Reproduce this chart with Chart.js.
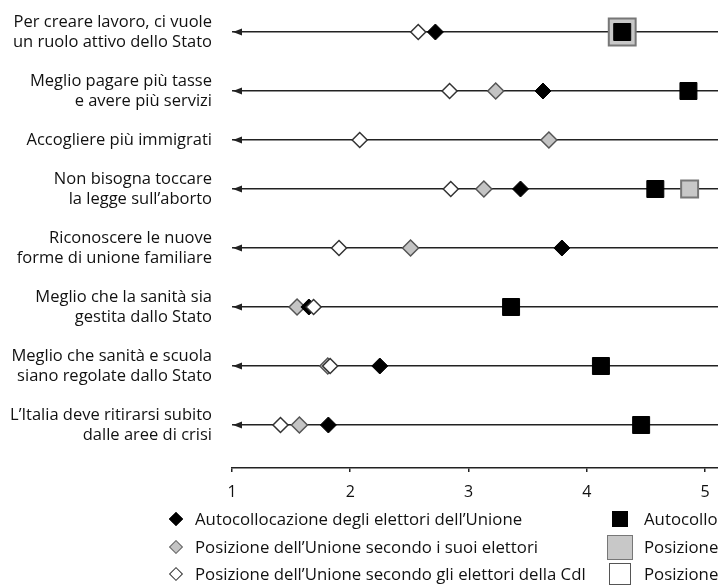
<!DOCTYPE html>
<html><head><meta charset="utf-8">
<script src="https://cdn.jsdelivr.net/npm/chart.js@4"></script>
<style>
html,body{margin:0;padding:0;background:#fff;}
#wrap{position:relative;width:718px;height:585px;overflow:hidden;font-family:'Open Sans',sans-serif;color:#111;}
#c{position:absolute;left:0;top:0;}
.legtxt{position:absolute;font-size:16.8px;white-space:nowrap;line-height:20px;}
.mk{position:absolute;box-sizing:border-box;}
</style></head><body>
<div id="wrap"><canvas id="c" width="718" height="585"></canvas><div id="legend"></div></div>
<script>
// ---- data ----
const categories = [
  ["Per creare lavoro, ci vuole", "un ruolo attivo dello Stato"],
  ["Meglio pagare più tasse", "e avere più servizi"],
  ["Accogliere più immigrati"],
  ["Non bisogna toccare", "la legge sull’aborto"],
  ["Riconoscere le nuove", "forme di unione familiare"],
  ["Meglio che la sanità sia", "gestita dallo Stato"],
  ["Meglio che sanità e scuola", "siano regolate dallo Stato"],
  ["L’Italia deve ritirarsi subito", "dalle aree di crisi"]
];
const unioneSelf   = [2.72, 3.63, null, 3.44, 3.79, 1.65, 2.25, 1.815];
const unioneByOwn  = [null, 3.23, 3.68, 3.13, 2.51, 1.55, 1.81, 1.57];
const unioneByCdl  = [2.575, 2.84, 2.08, 2.85, 1.905, 1.69, 1.83, 1.41];
const cdlSelf      = [4.30, 4.86, null, 4.58, null, 3.36, 4.12, 4.46];
const cdlByOwn     = [4.30, null, null, 4.87, null, null, null, null];
const cdlByUnione  = [null, null, null, null, null, null, null, null];
const xTicks = [1, 2, 3, 4, 5];
const seriesNames = [
  "Autocollocazione degli elettori dell’Unione",
  "Posizione dell’Unione secondo i suoi elettori",
  "Posizione dell’Unione secondo gli elettori della Cdl",
  "Autocollocazione degli elettori della Cdl",
  "Posizione della Cdl secondo i suoi elettori",
  "Posizione della Cdl secondo gli elettori dell’Unione"
];

// ---- layout: row centres derived from label line counts ----
const lineCounts = categories.map(c => c.length);
const rowPos = [];
lineCounts.forEach((n, i) => rowPos.push(i === 0 ? 0 : rowPos[i - 1] + 10 * (lineCounts[i - 1] + n) + 19));

const INK = '#222';
Chart.defaults.font.family = "'Open Sans', sans-serif";
Chart.defaults.color = '#111';

const pts = arr => arr.map((v, i) => ({x: v, y: rowPos[i]}));

const datasets = [
  {label: seriesNames[0], data: pts(unioneSelf), pointStyle: 'rectRot', pointRadius: 8,
   backgroundColor: '#000', borderColor: '#000', borderWidth: 1, order: 1},
  {label: seriesNames[1], data: pts(unioneByOwn), pointStyle: 'rectRot', pointRadius: 8,
   backgroundColor: '#c4c4c4', borderColor: '#555', borderWidth: 1.5, order: 2},
  {label: seriesNames[2], data: pts(unioneByCdl), pointStyle: 'rectRot', pointRadius: 7.5,
   backgroundColor: '#fff', borderColor: '#333', borderWidth: 1.5, order: 0},
  {label: seriesNames[3], data: pts(cdlSelf), pointStyle: 'rect', pointRadius: 12,
   backgroundColor: '#000', borderColor: '#000', borderWidth: 1, order: 3},
  {label: seriesNames[4], data: pts(cdlByOwn), pointStyle: 'rect',
   pointRadius: ctx => (cdlSelf[ctx.dataIndex] !== null && cdlSelf[ctx.dataIndex] === cdlByOwn[ctx.dataIndex]) ? 19 : 12,
   backgroundColor: '#c8c8c8', borderColor: '#777', borderWidth: 2, order: 5},
  {label: seriesNames[5], data: pts(cdlByUnione), pointStyle: 'rect', pointRadius: 11,
   backgroundColor: '#fff', borderColor: '#555', borderWidth: 1, order: 4}
];

const arrowPlugin = {
  id: 'arrows',
  beforeDatasetsDraw(chart) {
    const {ctx, chartArea, scales: {y}} = chart;
    ctx.save();
    ctx.fillStyle = INK;
    rowPos.forEach(v => {
      const py = y.getPixelForValue(v);
      ctx.beginPath();
      ctx.moveTo(chartArea.left + 1, py);
      ctx.lineTo(chartArea.left + 10, py - 3.5);
      ctx.lineTo(chartArea.left + 10, py + 3.5);
      ctx.closePath();
      ctx.fill();
    });
    ctx.restore();
  }
};

new Chart(document.getElementById('c'), {
  type: 'scatter',
  data: {datasets},
  plugins: [arrowPlugin],
  options: {
    responsive: false,
    animation: false,
    showLine: false,
    layout: {padding: 0, autoPadding: false},
    plugins: {legend: {display: false}, tooltip: {enabled: false}},
    scales: {
      x: {
        type: 'linear', position: 'bottom', min: 1, max: 5.11,
        afterBuildTicks: s => { s.ticks = xTicks.map(v => ({value: v})); },
        afterFit: s => { s.height = 117; s.paddingLeft = 0; s.paddingRight = 0; },
        grid: {drawOnChartArea: false, drawTicks: true, tickLength: 4, color: INK, lineWidth: 1.5},
        border: {display: true, color: INK, width: 1.5},
        ticks: {padding: 11, font: {size: 16}, color: '#111'}
      },
      y: {
        type: 'linear', position: 'left', reverse: true,
        min: -32, max: rowPos[rowPos.length - 1] + 43,
        afterBuildTicks: s => { s.ticks = rowPos.map(v => ({value: v})); },
        afterFit: s => { s.width = 232; s.paddingTop = 0; s.paddingBottom = 0; },
        grid: {drawOnChartArea: true, drawTicks: false, color: INK, lineWidth: 1.5},
        border: {display: false},
        ticks: {
          padding: 20, color: '#111',
          font: {size: 16.5, lineHeight: '20px'},
          callback: v => categories[rowPos.indexOf(v)]
        }
      }
    }
  }
});

// ---- legend (HTML) ----
const leg = document.getElementById('legend');
const legendRows = [519, 547, 574];
const markerStyles = [
  {w: 10, h: 10, rot: true, bg: '#000', bd: '1px solid #000'},
  {w: 10, h: 10, rot: true, bg: '#c4c4c4', bd: '1.5px solid #666'},
  {w: 10, h: 10, rot: true, bg: '#fff', bd: '1.5px solid #333'},
  {w: 16, h: 16, rot: false, bg: '#000', bd: '1px solid #000'},
  {w: 26, h: 25, rot: false, bg: '#c8c8c8', bd: '1.5px solid #777'},
  {w: 22, h: 22, rot: false, bg: '#fff', bd: '1px solid #555'}
];
seriesNames.forEach((name, i) => {
  const col = i < 3 ? 0 : 1;
  const cy = legendRows[i % 3];
  const mx = col === 0 ? 176 : 620;
  const tx = col === 0 ? 195 : 644;
  const m = markerStyles[i];
  const mk = document.createElement('div');
  mk.className = 'mk';
  mk.style.cssText += `left:${mx - m.w / 2}px;top:${cy - m.h / 2}px;width:${m.w}px;height:${m.h}px;background:${m.bg};border:${m.bd};` + (m.rot ? 'transform:rotate(45deg);' : '');
  leg.appendChild(mk);
  const t = document.createElement('div');
  t.className = 'legtxt';
  t.style.left = tx + 'px';
  t.style.top = (cy - 10) + 'px';
  t.textContent = name;
  leg.appendChild(t);
});
</script>
</body></html>
